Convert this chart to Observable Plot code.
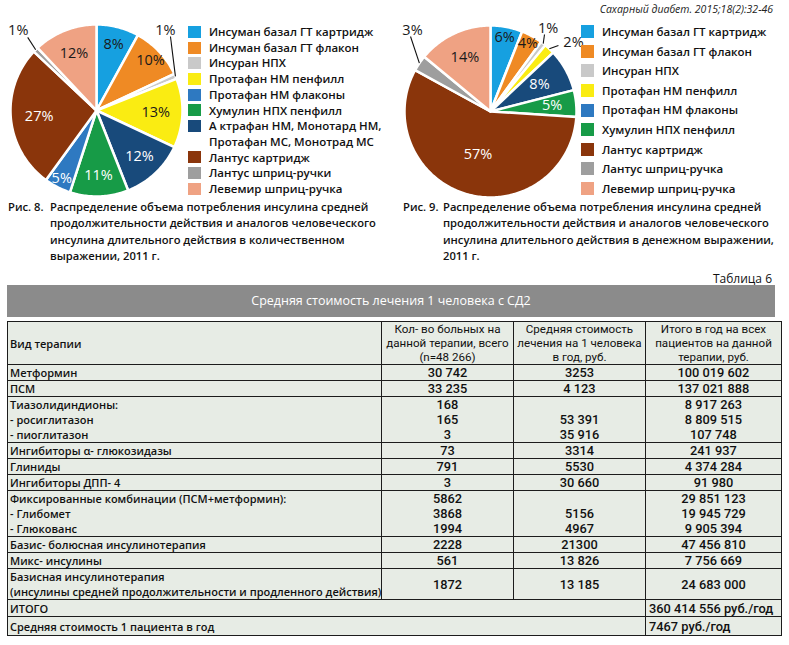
<!DOCTYPE html>
<html><head><meta charset="utf-8">
<script src="https://cdn.jsdelivr.net/npm/d3@7"></script>
<script src="https://cdn.jsdelivr.net/npm/@observablehq/plot@0.6"></script>
<style>
body{margin:0;background:#fff;font-family:"Open Sans",sans-serif;color:#111;}
#page{position:relative;width:789px;height:645px;overflow:hidden;background:#fff;}
.abs{position:absolute;}
.legend .row{display:flex;align-items:flex-start;font-weight:600;font-size:11.5px;white-space:pre;}
.legend .sw{flex:none;width:13px;margin-right:8px;}
.cap{display:flex;font-weight:600;font-size:11.2px;line-height:16.3px;}
.cap .lab{flex:none;}
.source{font-style:italic;font-size:10.5px;color:#222;}
table.t{border-collapse:collapse;table-layout:fixed;background:#e7ece5;}
table.t td{border:1px solid #1c1c1c;padding:0 3px;vertical-align:middle;white-space:pre;overflow:hidden;}
table.t td.c1{font-weight:600;font-size:11px;line-height:15px;text-align:left;padding-left:2px;}
table.t td.num{text-align:center;font-family:Roboto,sans-serif;font-weight:500;font-size:12.8px;line-height:15px;}
table.t td.hd{text-align:center;font-family:Roboto,sans-serif;font-size:11.6px;line-height:14px;}
</style></head><body><div id="page"></div>
<script>
// ---------- DATA ----------
const productNames = ["Инсуман базал ГТ картридж","Инсуман базал ГТ флакон","Инсуран НПХ","Протафан НМ пенфилл","Протафан НМ флаконы","Хумулин НПХ пенфилл","А ктрафан НМ, Монотард НМ,\nПротафан МС, Монотрад МС","Лантус картридж","Лантус шприц-ручки","Левемир шприц-ручка"];
const productColors = ["#16a0e0","#ef8a24","#c9c9c9","#faec12","#2e79c1","#179b47","#184a7b","#8a350b","#9e9e9e","#efa283"];

// Fig. 8 slices (clockwise from 12 o'clock): product index + percent
const pie1Products = [0,1,2,3,6,5,4,7,8,9];
const pie1Values   = [8,10,1,13,12,11,5,27,1,12];
// Fig. 9 slices
const pie2Products = [0,1,2,3,6,5,7,8,9];
const pie2Values   = [6,4,1,2,8,5,57,3,14];

const legend1Products = [0,1,2,3,4,5,6,7,8,9];
const legend2Products = [0,1,2,3,4,5,7,8,9];
const legend2Names = ["Инсуман базал ГТ картридж","Инсуман базал ГТ флакон","Инсуран НПХ","Протафан НМ пенфилл","Протафан НМ флаконы","Хумулин НПХ пенфилл","Лантус картридж","Лантус шприц-ручка","Левемир шприц-ручка"];

const sourceText = "Сахарный диабет. 2015;18(2):32-46";
const caption8Label = "Рис. 8.";
const caption8Text = "Распределение объема потребления инсулина средней\nпродолжительности действия и аналогов человеческого\nинсулина длительного действия в количественном\nвыражении, 2011 г.";
const caption9Label = "Рис. 9.";
const caption9Text = "Распределение объема потребления инсулина средней\nпродолжительности действия и аналогов человеческого\nинсулина длительного действия в денежном выражении,\n2011 г.";
const tableLabel = "Таблица 6";
const tableTitle = "Средняя стоимость лечения 1 человека с СД2";
const tableHeaders = ["Вид терапии","Кол- во больных на\nданной терапии, всего\n(n=48 266)","Средняя стоимость\nлечения на 1 человека\nв год, руб.","Итого в год на всех\nпациентов на данной\nтерапии, руб."];
const therapies = ["Метформин","ПСМ","Тиазолидиндионы:\n- росиглитазон\n- пиоглитазон","Ингибиторы α- глюкозидазы","Глиниды","Ингибиторы ДПП- 4","Фиксированные комбинации (ПСМ+метформин):\n- Глибомет\n- Глюкованс","Базис- болюсная инсулинотерапия","Микс- инсулины","Базисная инсулинотерапия\n(инсулины средней продолжительности и продленного действия)"];
const patients = ["30 742","33 235","168\n165\n3","73","791","3","5862\n3868\n1994","2228","561","1872"];
const costPerPatient = ["3253","4 123","\n53 391\n35 916","3314","5530","30 660","\n5156\n4967","21300","13 826","13 185"];
const totalPerYear = ["100 019 602","137 021 888","8 917 263\n8 809 515\n107 748","241 937","4 374 284","91 980","29 851 123\n19 945 729\n9 905 394","47 456 810","7 756 669","24 683 000"];
const summaryLabels = ["ИТОГО","Средняя стоимость 1 пациента в год"];
const summaryValues = ["360 414 556 руб./год","7467 руб./год"];

// ---------- LAYOUT / STYLE ----------
const darkProducts = new Set([4,5,6,7]); // white label text
const pie1Layout = {left:0, top:0, width:195, height:200, cx:96, cy:110, r:86,
  labelR:[0.80,0.86,null,0.69,0.73,0.76,0.89,0.67,null,0.71],
  outside:{2:{lx:0.80,ly:0.935,ex:0.86,ey:0.86}, 8:{lx:-0.91,ly:0.93,ex:-0.80,ey:0.85}}};
const pie2Layout = {left:390, top:0, width:200, height:200, cx:100, cy:111, r:86,
  labelR:[0.88,0.90,null,null,0.65,0.72,0.52,null,0.70],
  outside:{2:{lx:0.67,ly:0.965,ex:0.628,ey:0.895}, 3:{lx:0.965,ly:0.80,ex:0.79,ey:0.767}, 7:{lx:-0.907,ly:0.942,ex:-0.93,ey:0.872}}};

const page = document.getElementById("page");
function add(el, css){ el.classList.add("abs"); el.style.position="absolute"; Object.assign(el.style, css); page.appendChild(el); return el; }

function pieChart(prods, values, L){
  const total = d3.sum(values);
  const pts = [], labels = [], links = [];
  let acc = 0;
  values.forEach((v,i)=>{
    const a0 = acc/total*2*Math.PI; acc += v; const a1 = acc/total*2*Math.PI;
    const n = Math.max(3, Math.ceil((a1-a0)/(Math.PI/180)));
    const kind = productNames[prods[i]];
    pts.push({slice:i, kind, x:0, y:0});
    for(let k=0;k<=n;k++){ const a=a0+(a1-a0)*k/n; pts.push({slice:i, kind, x:Math.sin(a), y:Math.cos(a)}); }
    const am = (a0+a1)/2;
    const o = L.outside[i];
    if(o){
      labels.push({x:o.lx, y:o.ly, text:v+"%", white:false});
      links.push({x1:Math.sin(am), y1:Math.cos(am), x2:o.ex, y2:o.ey});
    } else {
      const rr = L.labelR[i];
      labels.push({x:Math.sin(am)*rr, y:Math.cos(am)*rr, text:v+"%", white:darkProducts.has(prods[i])});
    }
  });
  return Plot.plot({
    width:L.width, height:L.height, margin:0,
    x:{domain:[-1,1], range:[L.cx-L.r, L.cx+L.r], axis:null},
    y:{domain:[-1,1], range:[L.cy+L.r, L.cy-L.r], axis:null},
    color:{domain:productNames, range:productColors},
    style:{background:"transparent", overflow:"visible"},
    marks:[
      Plot.line(pts, {x:"x", y:"y", z:"slice", fill:"kind", stroke:"white", strokeWidth:2.5, strokeLinejoin:"round", curve:"linear-closed"}),
      Plot.link(links, {x1:"x1", y1:"y1", x2:"x2", y2:"y2", stroke:"#111", strokeWidth:1.1}),
      Plot.text(labels, {x:"x", y:"y", text:"text", fill:d=>d.white?"#fff":"#1a1a1a", fontSize:14.5, fontWeight:500, fontFamily:"Open Sans"})
    ]
  });
}

const p1 = pieChart(pie1Products, pie1Values, pie1Layout);
add(p1, {left:pie1Layout.left+"px", top:pie1Layout.top+"px"});
const p2 = pieChart(pie2Products, pie2Values, pie2Layout);
add(p2, {left:pie2Layout.left+"px", top:pie2Layout.top+"px"});

function legend(prods, names, left, top, rowH, swH){
  const box = document.createElement("div"); box.className="legend";
  prods.forEach((p,i)=>{
    const row = document.createElement("div"); row.className="row";
    row.style.lineHeight = rowH+"px";
    const sw = document.createElement("div"); sw.className="sw";
    sw.style.height = swH+"px"; sw.style.marginTop = ((rowH-swH)/2)+"px"; sw.style.background = productColors[p];
    const tx = document.createElement("div"); tx.textContent = names[i];
    row.appendChild(sw); row.appendChild(tx); box.appendChild(row);
  });
  return add(box, {left:left+"px", top:top+"px"});
}
legend(legend1Products, legend1Products.map(p=>productNames[p]), 188, 24, 15.7, 12);
legend(legend2Products, legend2Names, 581, 22, 19.6, 13);

const src = document.createElement("div"); src.className="source"; src.textContent = sourceText;
add(src, {right:"16px", top:"2px"});

function caption(label, text, left, top, labW){
  const c = document.createElement("div"); c.className="cap";
  const l = document.createElement("div"); l.className="lab"; l.style.width=labW+"px"; l.textContent=label;
  const t = document.createElement("div"); t.style.whiteSpace="pre"; t.textContent=text;
  c.appendChild(l); c.appendChild(t);
  return add(c, {left:left+"px", top:top+"px"});
}
caption(caption8Label, caption8Text, 8, 199, 42);
caption(caption9Label, caption9Text, 403, 199, 40);

const tl = document.createElement("div"); tl.textContent = tableLabel;
add(tl, {right:"17px", top:"270px", fontSize:"12px", fontWeight:"500"});

const bar = document.createElement("div"); bar.textContent = tableTitle;
add(bar, {left:"7px", top:"285px", width:"768px", height:"32px", background:"#8b8b8b", color:"#fff", fontSize:"12.5px", lineHeight:"32px", textAlign:"center"});

// table
const colW = [374,132,132,136];
const rowH = [16,16,46,16,16,16,46,16,16,31];
const t = document.createElement("table"); t.className="t";
t.style.width = d3.sum(colW)+"px";
const cg = document.createElement("colgroup");
colW.forEach(w=>{const c=document.createElement("col"); c.style.width=w+"px"; cg.appendChild(c);});
t.appendChild(cg);
function cell(tr, text, cls, extra){ const td=document.createElement("td"); td.className=cls; td.textContent=text; if(extra) Object.assign(td, extra); tr.appendChild(td); return td; }
{
  const tr = document.createElement("tr"); tr.style.height="43px";
  cell(tr, tableHeaders[0], "c1");
  for(let k=1;k<4;k++) cell(tr, tableHeaders[k], "hd");
  t.appendChild(tr);
}
therapies.forEach((name,i)=>{
  const tr = document.createElement("tr"); tr.style.height=rowH[i]+"px";
  const multi = name.split("\n").length===3;
  const c = cell(tr, name, "c1"); if(multi) c.style.verticalAlign="top";
  [patients, costPerPatient, totalPerYear].forEach(arr=>{ const d=cell(tr, arr[i], "num"); if(multi) d.style.verticalAlign="top"; });
  t.appendChild(tr);
});
summaryLabels.forEach((lab,i)=>{
  const tr = document.createElement("tr"); tr.style.height=(i===0?17:19)+"px";
  cell(tr, lab, "c1", {colSpan:3});
  const v = cell(tr, summaryValues[i], "num"); v.style.textAlign="left";
  t.appendChild(tr);
});
add(t, {left:"7px", top:"321px"});
</script>
</body></html>
